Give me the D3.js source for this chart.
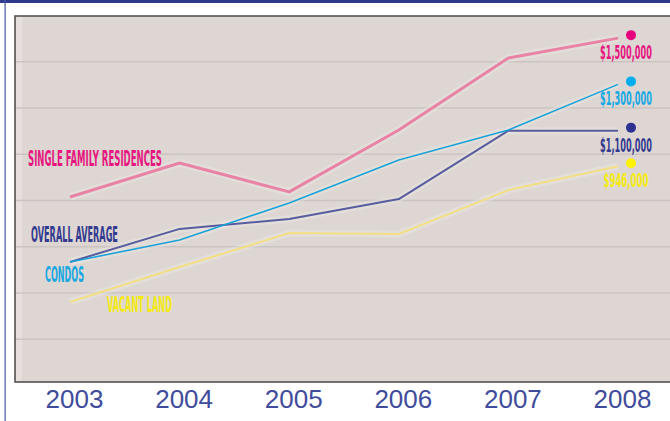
<!DOCTYPE html>
<html>
<head>
<meta charset="utf-8">
<script src="https://cdn.jsdelivr.net/npm/d3@7"></script>
<style>
  body { margin: 0; background: #fff; }
  svg { display: block; }
</style>
</head>
<body>
<script>
// Chart size
var w = 670;
var h = 421;

// Data (median price, dollars)
var years = ["2003", "2004", "2005", "2006", "2007", "2008"];
var singleFamily = [813000, 960000, 835000, 1103000, 1414000, 1500000];
var condos = [532000, 627000, 787000, 973000, 1103000, 1300000];
var overall = [532000, 675000, 718000, 804000, 1100000, 1100000];
var vacantLand = [359000, 510000, 657000, 653000, 843000, 946000];
var gridValues = [200000, 400000, 600000, 800000, 1000000, 1200000, 1400000];
var endLabels = ["$1,500,000", "$1,300,000", "$1,100,000", "$946,000"];
var seriesNames = ["SINGLE FAMILY RESIDENCES", "CONDOS", "OVERALL AVERAGE", "VACANT LAND"];

var svg = d3.select("body").append("svg")
    .attr("width", w)
    .attr("height", h);

// frame: navy bar on top, thin line at left
svg.append("rect").attr("x", 0).attr("y", 0).attr("width", w).attr("height", 3).attr("fill", "#2e3a8c");
svg.append("rect").attr("x", 4.5).attr("y", 0).attr("width", 1.2).attr("height", h).attr("fill", "#4b56a6");

// plot panel
var plot = { left: 15, top: 16, right: 680, bottom: 382 };
svg.append("rect")
    .attr("x", plot.left).attr("y", plot.top)
    .attr("width", plot.right - plot.left).attr("height", plot.bottom - plot.top)
    .attr("fill", "#ddd6d3");
svg.append("rect")
    .attr("x", plot.left + 1).attr("y", plot.top)
    .attr("width", 6).attr("height", plot.bottom - plot.top)
    .attr("fill", "#e6dfdd");

// scales
var x = d3.scalePoint().domain(years).range([70, 618]);
var y = d3.scaleLinear().domain([0, 1600000]).range([385, 15]);

// horizontal grid lines
svg.append("g")
    .attr("transform", "translate(" + plot.left + ",0)")
    .call(d3.axisLeft(y).tickValues(gridValues).tickSize(-(plot.right - plot.left)).tickFormat(""))
    .call(function(g) {
        g.select(".domain").remove();
        g.selectAll(".tick line").attr("stroke", "#cbc4c2").attr("stroke-width", 1.5);
    });

svg.append("rect")
    .attr("x", plot.left).attr("y", plot.top)
    .attr("width", plot.right - plot.left).attr("height", plot.bottom - plot.top)
    .attr("fill", "none").attr("stroke", "#55514f").attr("stroke-width", 1.6);

// series
var series = [
    { name: seriesNames[0], values: singleFamily, line: "#e883a6", width: 3, dot: "#e6007e", text: "#e6177f", label: endLabels[0] },
    { name: seriesNames[1], values: condos, line: "#1ba3d8", width: 1.6, dot: "#00aeef", text: "#19a8e2", label: endLabels[1] },
    { name: seriesNames[2], values: overall, line: "#585d9e", width: 2, dot: "#2e3192", text: "#343a8f", label: endLabels[2] },
    { name: seriesNames[3], values: vacantLand, line: "#f2df85", width: 2, dot: "#fff200", text: "#f4ea12", label: endLabels[3] }
];

var line = d3.line()
    .x(function(d, i) { return x(years[i]); })
    .y(function(d) { return y(d); });

// soft glow under each line
var drawOrder = [3, 0, 2, 1];
drawOrder.forEach(function(k) {
    svg.append("path")
        .datum(series[k].values)
        .attr("d", line)
        .attr("fill", "none")
        .attr("stroke", "#f2eeec")
        .attr("stroke-opacity", 0.35)
        .attr("stroke-width", series[k].width + 5)
        .attr("stroke-linejoin", "round");
});
drawOrder.forEach(function(k) {
    svg.append("path")
        .datum(series[k].values)
        .attr("d", line)
        .attr("fill", "none")
        .attr("stroke", series[k].line)
        .attr("stroke-width", series[k].width)
        .attr("stroke-linejoin", "round");
});

// narrow poster-style text: squeeze horizontally to a target width, stretch a bit taller
var font = "'DejaVu Sans Condensed', 'Liberation Sans Narrow', sans-serif";
function narrowText(px, py, str, width, color, size) {
    var g = svg.append("g");
    var t = g.append("text")
        .attr("font-family", font)
        .attr("font-weight", "bold")
        .attr("font-size", size)
        .attr("fill", color)
        .text(str);
    var natural = t.node().getComputedTextLength();
    g.attr("transform", "translate(" + px + "," + py + ") scale(" + (width / natural) + ",1.18)");
}

// end dots and value labels
var dotX = 631;
series.forEach(function(s) {
    var last = s.values[s.values.length - 1];
    svg.append("circle")
        .attr("cx", dotX)
        .attr("cy", y(last) - 3)
        .attr("r", 5)
        .attr("fill", s.dot);
    var wd = s.label.length > 8 ? 52 : 45;
    narrowText(dotX - 5 - wd / 2, y(last) + 21, s.label, wd, s.text, 17);
});

// series names on the left
var nameSpots = [
    { x: 28, y: 166, len: 134 },
    { x: 45, y: 282, len: 39 },
    { x: 31, y: 242, len: 87 },
    { x: 107, y: 312, len: 65 }
];
series.forEach(function(s, i) {
    narrowText(nameSpots[i].x, nameSpots[i].y, s.name, nameSpots[i].len, s.text, 17.5);
});

// year axis
svg.append("g")
    .attr("transform", "translate(4,390)")
    .call(d3.axisBottom(x).tickSize(0).tickPadding(0))
    .call(function(g) {
        g.select(".domain").remove();
        g.selectAll("text")
            .attr("dy", "0.71em")
            .attr("font-family", "'Liberation Sans', Arial, sans-serif")
            .attr("font-size", 26)
            .attr("fill", "#3f4c9c");
    });
</script>
</body>
</html>
